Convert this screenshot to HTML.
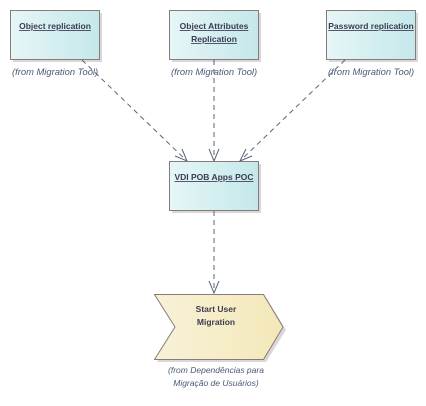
<!DOCTYPE html>
<html><head><meta charset="utf-8"><style>
html,body{margin:0;padding:0;background:#fff;width:426px;height:406px;overflow:hidden}
svg{display:block}
.t{font-family:"Liberation Sans",sans-serif;font-size:8.5px;font-weight:bold;fill:#3c3c50;text-decoration:underline}
.f{font-family:"Liberation Sans",sans-serif;font-size:8.5px;font-style:italic;fill:#4a5a78}
.m{font-size:9.4px}
</style></head><body>
<svg width="426" height="406" xmlns="http://www.w3.org/2000/svg">
<defs>
<linearGradient id="g" x1="0" x2="1"><stop offset="0" stop-color="#e6f6f7"/><stop offset="1" stop-color="#c4e8ea"/></linearGradient>
<linearGradient id="y" x1="0" x2="1"><stop offset="0" stop-color="#f8f1d8"/><stop offset="1" stop-color="#f4e8b8"/></linearGradient>
</defs>
<g fill="#d8d8d8">
<rect x="13" y="13" width="89" height="49"/><rect x="172" y="13" width="89" height="49"/><rect x="329" y="13" width="89" height="49"/><rect x="172" y="164" width="89" height="49"/>
<polygon points="157,297 266,297 286,330 266,362 157,362 178,330"/>
</g>
<g fill="url(#g)" stroke="#8a7a7a" stroke-width="1">
<rect x="10.5" y="10.5" width="89" height="49"/><rect x="169.5" y="10.5" width="89" height="49"/><rect x="326.5" y="10.5" width="89" height="49"/><rect x="169.5" y="161.5" width="89" height="49"/>
</g>
<polygon points="154.5,294.5 263.5,294.5 283,327 263.5,359.5 154.5,359.5 175,327" fill="url(#y)" stroke="#8a7a7a"/>
<g stroke="#5a6478" stroke-width="1" stroke-dasharray="5,4" fill="none">
<line x1="82" y1="60" x2="187" y2="161"/><line x1="214" y1="60" x2="214" y2="161"/><line x1="345" y1="60" x2="240" y2="161"/><line x1="214" y1="211" x2="214" y2="293"/>
</g>
<g stroke="#5a6478" stroke-width="1" fill="none">
<polyline points="175,156 187,161 182,149"/><polyline points="209,149 214,161 219,149"/><polyline points="246,149 240,161 252,156"/><polyline points="209,281 214,293 219,281"/>
</g>
<text class="t" x="55" y="29" text-anchor="middle">Object replication</text>
<text class="t" x="214" y="29" text-anchor="middle">Object Attributes</text>
<text class="t" x="214" y="42" text-anchor="middle">Replication</text>
<text class="t" x="371" y="29" text-anchor="middle">Password replication</text>
<text class="t" x="214" y="180" text-anchor="middle">VDI POB Apps POC</text>
<text class="t" style="text-decoration:none" x="216" y="312" text-anchor="middle">Start User</text>
<text class="t" style="text-decoration:none" x="216" y="325" text-anchor="middle">Migration</text>
<text class="f m" x="12" y="75">(from Migration Tool)</text>
<text class="f m" x="171" y="75">(from Migration Tool)</text>
<text class="f m" x="328" y="75">(from Migration Tool)</text>
<text class="f" x="216" y="373" text-anchor="middle">(from Dependências para</text>
<text class="f" x="216" y="386" text-anchor="middle">Migração de Usuários)</text>
</svg>
</body></html>
